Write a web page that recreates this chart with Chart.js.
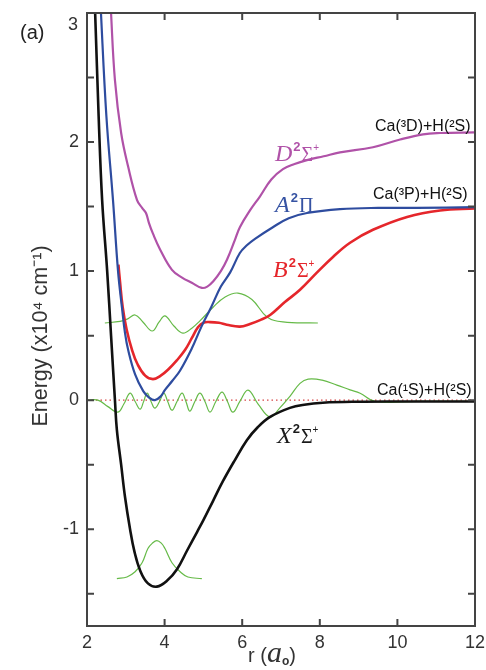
<!DOCTYPE html>
<html>
<head>
<meta charset="utf-8">
<script src="https://cdn.jsdelivr.net/npm/chart.js@4.4.1/dist/chart.umd.min.js"></script>
<style>
  html, body { margin: 0; padding: 0; background: #fff; }
  #wrap { position: relative; width: 486px; height: 670px; overflow: hidden; }
  #wrap canvas { position: absolute; left: 0; top: 0; }
  .lbl { position: absolute; white-space: nowrap; line-height: 1; }
  .sans { font-family: "Liberation Sans", Arial, sans-serif; }
  .asym { font-size: 16px; color: #111; }
  .st { font-family: "Liberation Serif", "Times New Roman", serif; font-size: 24px; }
  .st i { font-style: italic; }
  .st .s2 { font-family: "Liberation Sans", Arial, sans-serif; font-weight: bold; font-size: 13px; position: relative; top: -10px; margin-left: 1px; }
  .st .sg { font-size: 20px; margin-left: 1px; }
  .st .pl { font-family: "Liberation Sans", Arial, sans-serif; font-size: 10px; position: relative; top: -10px; }
</style>
</head>
<body>
<div id="wrap">
  <canvas id="pec" width="486" height="670"></canvas>

  <div class="lbl sans" style="left:20px; top:22px; font-size:20px; color:#222;">(a)</div>
  <!-- top tick label sits a bit below its tick in the original -->
  <div class="lbl sans" style="left:68px; top:15px; font-size:18px; color:#333;">3</div>

  <div class="lbl sans" style="left:-80px; top:324px; width:240px; height:24px; line-height:24px; text-align:center; font-size:21.5px; color:#333; transform:rotate(-90deg);">Energy (x10⁴ cm⁻¹)</div>

  <div class="lbl sans" style="left:248px; top:645px; font-size:20px; color:#333;">r (<i style="font-family:'Liberation Serif',serif; font-size:30px; line-height:0;">a</i><span style="font-size:12px; font-weight:bold; position:relative; top:3px;">o</span>)</div>

  <div class="lbl sans asym" style="left:375px; top:118px;">Ca(³D)+H(²S)</div>
  <div class="lbl sans asym" style="left:373px; top:186px;">Ca(³P)+H(²S)</div>
  <div class="lbl sans asym" style="left:377px; top:382px;">Ca(¹S)+H(²S)</div>

  <div class="lbl st" style="left:275px; top:141px; color:#b052a8;"><i>D</i><span class="s2">2</span><span class="sg">Σ</span><span class="pl">+</span></div>
  <div class="lbl st" style="left:275px; top:192px; color:#3653a3;"><i>A</i><span class="s2">2</span><span class="sg">Π</span></div>
  <div class="lbl st" style="left:273px; top:257px; color:#e5262b;"><i>B</i><span class="s2">2</span><span class="sg">Σ</span><span class="pl">+</span></div>
  <div class="lbl st" style="left:277px; top:423px; color:#1a1a1a;"><i>X</i><span class="s2">2</span><span class="sg">Σ</span><span class="pl">+</span></div>
</div>

<script>
"use strict";

// potential curves, r in a0, energy in 10^4 cm-1
var xR = [2.17, 2.21, 2.30, 2.39, 2.52, 2.62, 2.72, 2.77, 2.88, 2.98, 3.11, 3.22, 3.37, 3.57, 3.80, 4.06, 4.32, 4.58, 4.84, 5.00, 5.25, 5.50, 5.80, 6.12, 6.40, 6.72, 7.23, 7.60, 8.08, 9.0, 10.0, 11.0, 12.0];
var xE = [3.30, 3.00, 2.20, 1.55, 1.00, 0.50, 0.00, -0.23, -0.50, -0.75, -1.00, -1.17, -1.32, -1.42, -1.445, -1.40, -1.31, -1.165, -1.02, -0.93, -0.78, -0.63, -0.47, -0.31, -0.21, -0.13, -0.06, -0.035, -0.02, -0.012, -0.01, -0.01, -0.01];

var aR = [2.30, 2.36, 2.50, 2.67, 2.80, 2.90, 2.98, 3.06, 3.24, 3.45, 3.60, 3.75, 3.90, 4.01, 4.20, 4.40, 4.70, 4.95, 5.20, 5.45, 5.69, 5.94, 6.12, 6.33, 6.79, 7.20, 7.67, 8.52, 9.5, 10.5, 12.0];
var aE = [3.40, 3.00, 2.20, 1.55, 1.00, 0.72, 0.52, 0.39, 0.20, 0.07, 0.02, 0.00, 0.03, 0.08, 0.15, 0.23, 0.40, 0.57, 0.72, 0.88, 0.99, 1.14, 1.20, 1.25, 1.34, 1.41, 1.45, 1.48, 1.49, 1.49, 1.495];

var bR = [2.81, 2.85, 2.92, 3.02, 3.16, 3.30, 3.50, 3.70, 3.90, 4.10, 4.32, 4.53, 4.70, 4.86, 5.00, 5.17, 5.40, 5.60, 5.94, 6.20, 6.46, 6.72, 7.10, 7.49, 7.93, 8.34, 8.78, 9.37, 10.25, 11.1, 12.0];
var bE = [1.05, 0.92, 0.72, 0.55, 0.39, 0.28, 0.19, 0.163, 0.19, 0.24, 0.31, 0.39, 0.48, 0.565, 0.60, 0.605, 0.60, 0.585, 0.57, 0.59, 0.62, 0.66, 0.76, 0.855, 0.99, 1.11, 1.22, 1.32, 1.42, 1.47, 1.485];

var dR = [2.56, 2.62, 2.72, 2.88, 3.06, 3.29, 3.42, 3.52, 3.60, 3.70, 3.88, 4.19, 4.45, 4.70, 4.96, 5.10, 5.25, 5.45, 5.61, 5.81, 5.94, 6.20, 6.46, 6.75, 7.05, 7.35, 7.67, 8.10, 8.52, 9.37, 10.07, 10.66, 11.1, 12.0];
var dE = [3.40, 3.00, 2.48, 2.07, 1.81, 1.55, 1.49, 1.45, 1.37, 1.29, 1.17, 1.01, 0.95, 0.91, 0.87, 0.88, 0.92, 1.00, 1.09, 1.24, 1.34, 1.47, 1.58, 1.71, 1.79, 1.83, 1.86, 1.89, 1.92, 1.96, 2.02, 2.06, 2.07, 2.075];

// wavefunctions (green)
var g0R = [2.77, 3.03, 3.24, 3.42, 3.57, 3.68, 3.80, 3.92, 4.01, 4.19, 4.40, 4.60, 4.96];
var g0E = [-1.383, -1.37, -1.33, -1.26, -1.15, -1.11, -1.088, -1.11, -1.15, -1.26, -1.33, -1.37, -1.383];

var g1R = [2.46, 2.85, 3.05, 3.24, 3.44, 3.68, 3.86, 4.01, 4.24, 4.47, 4.71, 4.91, 5.25, 5.56, 5.89, 6.25, 6.64, 7.05, 7.95];
var g1E = [0.598, 0.61, 0.63, 0.66, 0.606, 0.536, 0.606, 0.653, 0.575, 0.52, 0.56, 0.614, 0.72, 0.80, 0.83, 0.78, 0.645, 0.606, 0.598];

var gcR = [2.00, 2.28, 2.54, 2.80, 2.95, 3.11, 3.24, 3.37, 3.46, 3.55, 3.65, 3.75, 3.87, 3.98, 4.08, 4.19, 4.32, 4.45, 4.55, 4.65, 4.78, 4.91, 5.04, 5.17, 5.32, 5.48, 5.62, 5.76, 5.94, 6.15, 6.41, 6.72, 6.97, 7.23, 7.49, 7.70, 8.06, 8.44, 8.78, 9.04, 9.42, 10.5, 12.0];
var gcE = [0.0, 0.0, -0.05, -0.093, -0.03, 0.054, -0.01, -0.07, -0.01, 0.054, -0.01, -0.062, -0.01, 0.054, -0.01, -0.078, -0.01, 0.054, -0.01, -0.085, -0.01, 0.054, -0.01, -0.093, -0.01, 0.062, -0.01, -0.093, -0.01, 0.078, -0.03, -0.13, -0.06, 0.03, 0.13, 0.163, 0.155, 0.117, 0.08, 0.054, -0.01, -0.01, -0.01];

// asymptote of the ground state
var zeroR = [2, 12];
var zeroE = [0, 0];

var xTicks = [2, 4, 6, 8, 10, 12];
var yTicks = [-1, 0, 1, 2];   // "3" is placed by hand, see html

function pts(r, e) {
    return r.map(function (v, i) { return { x: v, y: e[i] }; });
}

function curve(r, e, color, width) {
    return {
        data: pts(r, e),
        borderColor: color,
        backgroundColor: 'transparent',
        borderWidth: width,
        pointRadius: 0,
        tension: 0.4,
        fill: false
    };
}

// box around the plot with inward tick marks on all four sides
const frame = {
    id: 'frame',
    afterDatasetsDraw(chart) {
        const c = chart.ctx;
        const a = chart.chartArea;
        const sx = chart.scales.x, sy = chart.scales.y;
        const len = 7;
        c.save();
        c.strokeStyle = '#444';
        c.lineWidth = 2;
        c.strokeRect(a.left, a.top, a.right - a.left, a.bottom - a.top);
        c.beginPath();
        sx.ticks.forEach(function (t) {
            const px = sx.getPixelForValue(t.value);
            c.moveTo(px, a.bottom); c.lineTo(px, a.bottom - len);
            c.moveTo(px, a.top); c.lineTo(px, a.top + len);
        });
        sy.ticks.forEach(function (t) {
            if (Math.abs(t.value * 2 - Math.round(t.value * 2)) > 1e-6) return;
            const py = sy.getPixelForValue(t.value);
            c.moveTo(a.left, py); c.lineTo(a.left + len, py);
            c.moveTo(a.right, py); c.lineTo(a.right - len, py);
        });
        c.stroke();
        c.restore();
    }
};

var tickFont = { family: "'Liberation Sans', Arial, sans-serif", size: 18 };

var zeroLine = curve(zeroR, zeroE, '#d64545', 1.2);
zeroLine.borderDash = [1.5, 3];
zeroLine.tension = 0;

var config = {
    type: 'line',
    data: {
        datasets: [
            curve(aR, aE, '#2e4c9f', 2.2),
            curve(xR, xE, '#111111', 2.6),
            curve(bR, bE, '#e5262b', 2.6),
            curve(dR, dE, '#b052a8', 2.2),
            curve(g0R, g0E, '#66ba48', 1.2),
            curve(g1R, g1E, '#66ba48', 1.2),
            curve(gcR, gcE, '#66ba48', 1.2),
            zeroLine
        ]
    },
    options: {
        responsive: false,
        animation: false,
        events: [],
        layout: { padding: { top: 13, right: 11, bottom: 0, left: 0 } },
        plugins: {
            legend: { display: false },
            tooltip: { enabled: false },
            title: { display: false }
        },
        scales: {
            x: {
                type: 'linear',
                min: 2,
                max: 12,
                grid: { display: false, drawTicks: false },
                border: { display: false },
                afterBuildTicks: function (s) { s.ticks = xTicks.map(function (v) { return { value: v }; }); },
                afterFit: function (s) { s.height = 44; s.paddingLeft = 0; s.paddingRight = 0; },
                ticks: { padding: 6, color: '#333', font: tickFont, maxRotation: 0 }
            },
            y: {
                type: 'linear',
                min: -1.75,
                max: 3,
                grid: { display: false, drawTicks: false },
                border: { display: false },
                afterFit: function (s) { s.width = 87; s.paddingTop = 0; s.paddingBottom = 0; },
                ticks: {
                    stepSize: 0.5,
                    padding: 8,
                    color: '#333',
                    font: tickFont,
                    callback: function (v) { return yTicks.indexOf(v) >= 0 ? String(v) : ''; }
                }
            }
        }
    },
    plugins: [frame]
};

new Chart(document.getElementById('pec'), config);
</script>
</body>
</html>
